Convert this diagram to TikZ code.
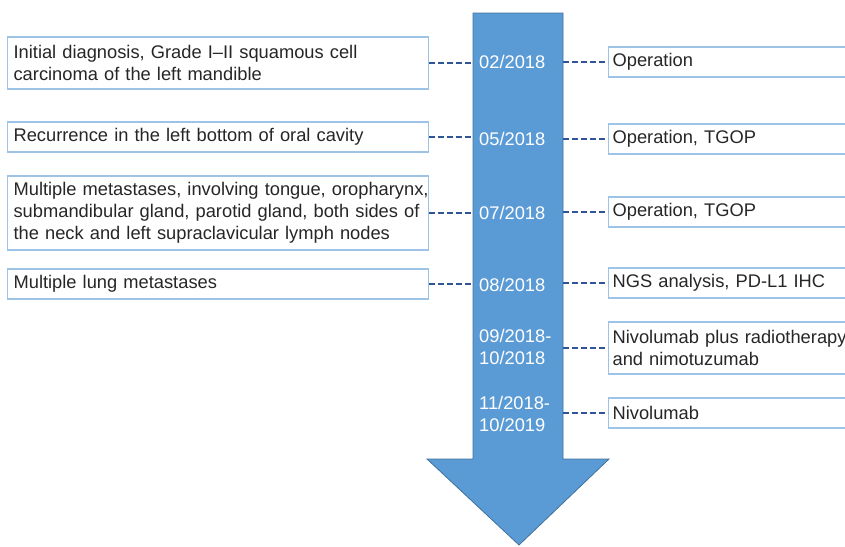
\documentclass[tikz,border=0pt]{standalone}
\usepackage{fontspec}
\setmainfont{Liberation Sans}
\usepackage{xcolor}
\usetikzlibrary{calc}
\definecolor{arrowfill}{HTML}{5B9BD5}
\definecolor{arrowline}{HTML}{41719C}
\definecolor{boxline}{HTML}{9DC3E6}
\definecolor{dashline}{HTML}{2F5597}
\definecolor{ink}{HTML}{262626}

\begin{document}
\begin{tikzpicture}[
    x=1pt, y=-1pt,
    every node/.style={font=\fontsize{18.3}{22}\selectfont, align=left},
    event/.style={draw=boxline, line width=1.2pt, text=ink, anchor=west,
                  inner xsep=6.5pt, inner ysep=0pt, text width=408.5pt,
                  minimum height=#1},
    event/.default=30pt,
    treat/.style={draw=boxline, line width=1.2pt, text=ink, anchor=west,
                  inner xsep=4pt, inner ysep=0pt, text width=312pt,
                  minimum height=#1},
    treat/.default=30pt,
    date/.style={text=white, anchor=west, inner sep=0pt},
    link/.style={dashline, line width=2pt, dash pattern=on 6pt off 3pt},
  ]
  \useasboundingbox (0,0) rectangle (845,546);
  \clip (0,0) rectangle (845,546);

  % timeline arrow
  \draw[fill=arrowfill, draw=arrowline, line width=0.8pt]
    (473,13) -- (563,13) -- (563,459) -- (609,459) -- (519,545)
    -- (427,459) -- (473,459) -- cycle;
  \coordinate (sl) at (473,0);
  \coordinate (sr) at (563,0);

  % dates
  \node[date] (d1) at (479,62)  {02/2018};
  \node[date] (d2) at (479,139) {05/2018};
  \node[date] (d3) at (479,213) {07/2018};
  \node[date] (d4) at (479,285) {08/2018};
  \node[date] (d5) at (479,347) {09/2018-\\10/2018};
  \node[date] (d6) at (479,414) {11/2018-\\10/2019};

  % events (left)
  \node[event=52pt] (ev1) at (6.5,63)  {Initial diagnosis, Grade I–II squamous cell\\carcinoma of the left mandible};
  \node[event]      (ev2) at (6.5,137) {Recurrence in the left bottom of oral cavity};
  \node[event=74pt] (ev3) at (6.5,213) {\mbox{Multiple metastases, involving tongue, oropharynx,}\\\mbox{submandibular gland, parotid gland, both sides of}\\the neck and left supraclavicular lymph nodes};
  \node[event]      (ev4) at (6.5,284) {Multiple lung metastases};

  % treatments (right)
  \node[treat]      (tr1) at (608,62)  {Operation};
  \node[treat]      (tr2) at (608,139) {Operation, TGOP};
  \node[treat]      (tr3) at (608,212) {Operation, TGOP};
  \node[treat]      (tr4) at (608,283) {NGS analysis, PD-L1 IHC};
  \node[treat=52pt] (tr5) at (608,348) {Nivolumab plus radiotherapy\\and nimotuzumab};
  \node[treat]      (tr6) at (608,413) {Nivolumab};

  \foreach \i in {1,...,4}
    \draw[link] (ev\i.east) -- (ev\i.east -| sl);
  \foreach \i in {1,...,6}
    \draw[link] (tr\i.west -| sr) -- (tr\i.west);
\end{tikzpicture}
\end{document}
